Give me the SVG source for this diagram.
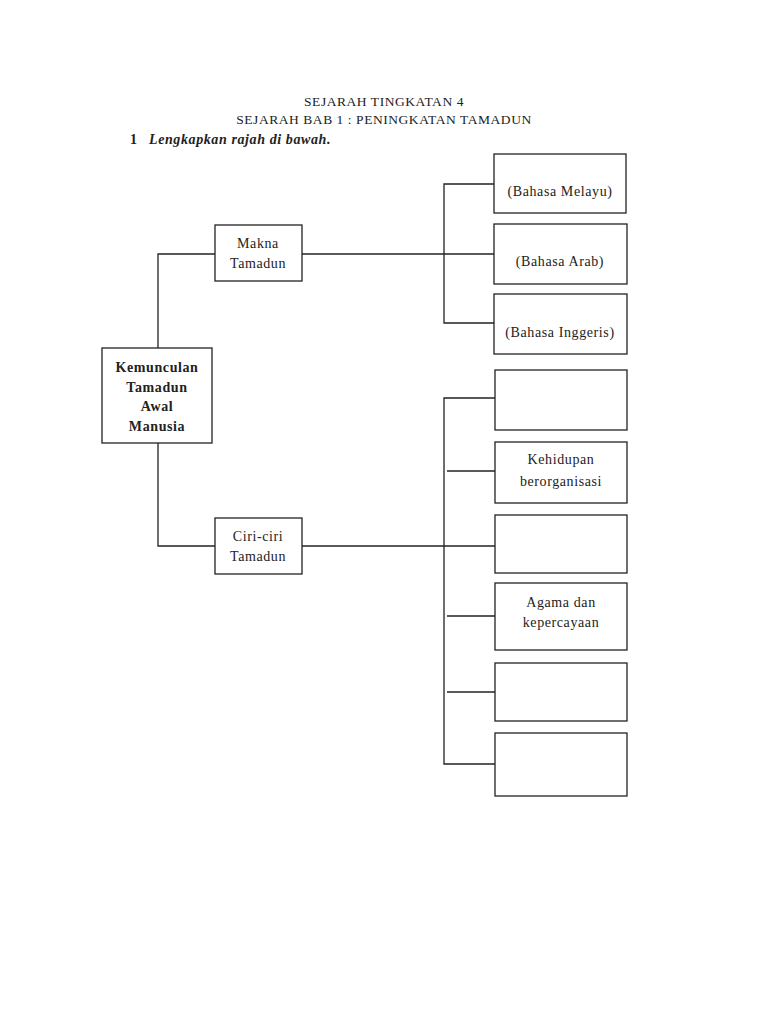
<svg xmlns="http://www.w3.org/2000/svg" width="768" height="1024" viewBox="0 0 768 1024">
<style>
.box{fill:#fff;stroke:#222;stroke-width:1.3}
.ln{stroke:#222;stroke-width:1.3;fill:none}
text{font-family:"Liberation Serif","Times New Roman",serif;font-size:14px;fill:#222;text-anchor:middle;letter-spacing:0.6px}
.b{font-weight:bold}
.t{font-size:13.5px;letter-spacing:0.55px}
</style>
<rect width="768" height="1024" fill="#fff"/>
<g id="title">
<text class="t" x="384" y="106">SEJARAH TINGKATAN 4</text>
<text class="t" x="384" y="124">SEJARAH BAB 1 : PENINGKATAN TAMADUN</text>
<text class="b" x="130" y="144" style="text-anchor:start">1</text>
<text class="b" x="149" y="144" style="text-anchor:start;font-style:italic">Lengkapkan rajah di bawah.</text>
</g>
<g id="connectors">
<polyline class="ln" points="158,349 158,254 215,254"/>
<line class="ln" x1="302" y1="254" x2="494" y2="254"/>
<polyline class="ln" points="494,184 444,184 444,323 494,323"/>
<polyline class="ln" points="158,443 158,546 215,546"/>
<line class="ln" x1="302" y1="546" x2="495" y2="546"/>
<polyline class="ln" points="495,398 444,398 444,764 495,764"/>
<line class="ln" x1="447" y1="471" x2="495" y2="471"/>
<line class="ln" x1="447" y1="616" x2="495" y2="616"/>
<line class="ln" x1="447" y1="692" x2="495" y2="692"/>
</g>
<g id="kemunculan">
<rect class="box" x="102" y="348" width="110" height="95"/>
<text class="b" x="157" y="372">Kemunculan</text>
<text class="b" x="157" y="392">Tamadun</text>
<text class="b" x="157" y="411">Awal</text>
<text class="b" x="157" y="431">Manusia</text>
</g>
<g id="makna">
<rect class="box" x="215" y="225" width="87" height="56"/>
<text x="258" y="248">Makna</text>
<text x="258" y="268">Tamadun</text>
</g>
<g id="ciri">
<rect class="box" x="215" y="518" width="87" height="56"/>
<text x="258" y="541">Ciri-ciri</text>
<text x="258" y="561">Tamadun</text>
</g>
<g id="melayu">
<rect class="box" x="494" y="154" width="132" height="59"/>
<text x="560" y="196">(Bahasa Melayu)</text>
</g>
<g id="arab">
<rect class="box" x="494" y="224" width="133" height="60"/>
<text x="560" y="266">(Bahasa Arab)</text>
</g>
<g id="inggeris">
<rect class="box" x="494" y="294" width="133" height="60"/>
<text x="560" y="337">(Bahasa Inggeris)</text>
</g>
<g id="c1"><rect class="box" x="495" y="370" width="132" height="60"/></g>
<g id="c2">
<rect class="box" x="495" y="442" width="132" height="61"/>
<text x="561" y="464">Kehidupan</text>
<text x="561" y="486">berorganisasi</text>
</g>
<g id="c3"><rect class="box" x="495" y="515" width="132" height="58"/></g>
<g id="c4">
<rect class="box" x="495" y="583" width="132" height="67"/>
<text x="561" y="607">Agama dan</text>
<text x="561" y="627">kepercayaan</text>
</g>
<g id="c5"><rect class="box" x="495" y="663" width="132" height="58"/></g>
<g id="c6"><rect class="box" x="495" y="733" width="132" height="63"/></g>
</svg>
